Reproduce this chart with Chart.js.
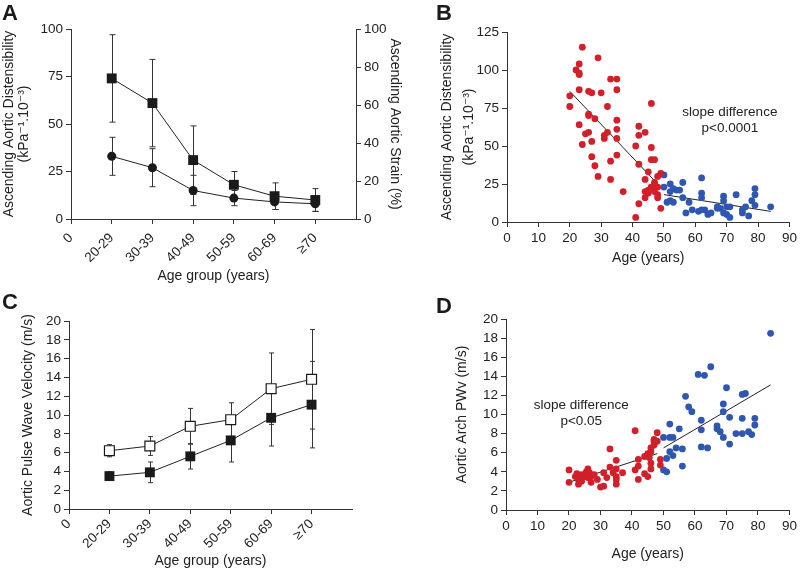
<!DOCTYPE html>
<html>
<head>
<meta charset="utf-8">
<script src="https://cdn.jsdelivr.net/npm/chart.js@4/dist/chart.umd.min.js"></script>
<style>
  html, body { margin: 0; padding: 0; background: #fff; }
  #wrap { position: relative; width: 800px; height: 570px; overflow: hidden; background: #fff; }
  canvas { position: absolute; }
  .letter { position: absolute; font: bold 22px "Liberation Sans", Arial, sans-serif; color: #1a1a1a; line-height: 1; }
</style>
</head>
<body>
<div id="wrap">
  <canvas id="cA" width="420" height="285" style="left:0;top:0"></canvas>
  <canvas id="cB" width="400" height="285" style="left:400px;top:0"></canvas>
  <canvas id="cC" width="400" height="285" style="left:0;top:285px"></canvas>
  <canvas id="cD" width="400" height="285" style="left:400px;top:285px"></canvas>
  <div class="letter" style="left:2px;top:2px">A</div>
  <div class="letter" style="left:436px;top:2px">B</div>
  <div class="letter" style="left:2px;top:291px">C</div>
  <div class="letter" style="left:436px;top:295px">D</div>
</div>
<script>
// ---------- DATA ----------
const ageGroups = ['0', '20-29', '30-39', '40-49', '50-59', '60-69', '\u226570'];

// Panel A
const distMean = [74, 61, 31, 18, 12, 10];
const distErr  = [23, 23, 18, 7, 7, 6];
const strainMean = [33, 27, 15, 11, 9, 8];
const strainErr  = [10, 10, 8, 4, 4, 4];

// Panel C
const pwvOpenMean = [6.2, 6.7, 8.8, 9.5, 12.8, 13.8];
const pwvOpenErr  = [0.65, 1.0, 1.9, 1.8, 3.8, 5.3];
const pwvFilledMean = [3.5, 3.9, 5.6, 7.3, 9.7, 11.1];
const pwvFilledErr  = [0.45, 1.1, 1.35, 2.3, 3.0, 4.6];

// Panel B (age, distensibility)
const bRedAge = [20,20,22,23,23,23,24,23,23,24,25,26,26,27,26,26,27,27,28,28,29,29,30,31,31,32,32,33,33,33,35,35,35,35,35,35,37,41,41,42,42,42,42,44,44,44,44,45,45,46,46,46,47,46,47,47,48,48,49,49,45,46,47,48,48];
const bRedVal = [76,83,100,98,97,104,115,87,64,51,58,59,86,85,71,70,53,43,68,37,108,30,85,55,57,76,59,94,40,28,94,87,67,61,55,44,20,50,3,63,57,38,12,59,28,20,16,33,19,78,49,41,41,23,26,20,30,16,32,9,21,23,24,18,23];
const bBlueAge = [50,50,51,52,52,52,53,53,54,55,56,56,57,58,59,61,62,62,62,62,63,64,65,67,67,68,69,69,69,70,70,71,71,73,75,75,76,77,78,79,79,79,84];
const bBlueVal = [31,23,13,25,20,14,22,13,21,21,26,16,6,13,8,7,29,19,16,8,8,5,6,10,9,9,17,14,6,10,5,3,10,18,8,6,10,4,14,22,18,11,10];
const bRedFitAge = [20, 48];
const bRedFitVal = [86, 25];
const bBlueFitAge = [50, 84];
const bBlueFitVal = [18, 7];

// Panel D (age, PWV)
const dRedAge = [20,20,22,22.5,23,23,23.5,24,24,25,25.5,26,26,26.5,27,27,28,29,30,31,31,32,33,33,34,35,35,35,35,35,37,41,41,42,42,42,44,44,45,45,46,46,46,47,47,47,48,48,49,49,46,45.5];
const dRedVal = [4.2,2.9,3.5,3.8,3.2,2.7,3.4,3.7,3.0,3.5,4.0,4.3,3.4,3.9,3.5,2.9,3.7,3.2,2.4,2.5,3.9,3.4,4.5,6.4,3.9,5.2,4.3,3.5,3.2,2.7,3.9,8.3,4.2,5.3,4.6,3.2,5.6,3.8,3.5,5.9,6.5,4.9,4.3,7.4,6.8,7.2,8.1,7.2,5.3,4.7,6.1,5.5];
const dBlueAge = [50,50,51,51,52,52,52,53,53,54,55,56,56,57,58,59,61,63,62,62,62,64,65,67,67,68,69,69,69,70,71,71,73,75,76,75,75,77,78,79,79,84];
const dBlueVal = [7.6,4.2,4.0,5.4,9.0,7.6,6.1,7.6,5.7,6.5,8.5,6.4,4.6,11.9,10.8,10.3,14.2,14.1,9.4,8.4,6.6,6.5,15.0,8.8,8.5,8.2,11.1,10.3,7.6,12.8,9.7,6.9,8.0,12.1,12.2,9.6,8.0,8.2,7.9,9.6,8.9,18.5];
const dRedFitAge = [20, 48];
const dRedFitVal = [2.9, 5.9];
const dBlueFitAge = [50, 84];
const dBlueFitVal = [6.5, 13.1];

// ---------- HELPERS ----------
const FONT = '"Liberation Sans", Arial, "DejaVu Sans", sans-serif';
const INK = '#222';
const RED = '#d21f2a';
const BLUE = '#2f56b0';
const TICK = 13.5;
const TITLE = 14;
Chart.defaults.font.family = FONT;
Chart.defaults.font.size = TICK;
Chart.defaults.color = INK;
Chart.defaults.animation = false;

const pts = (xs, ys) => xs.map((x, i) => ({ x, y: ys[i] }));
const grp = (ys) => ys.map((y, i) => ({ x: i + 1, y }));

const errorBars = {
  id: 'errorBars',
  beforeDatasetsDraw(chart) {
    const ctx = chart.ctx;
    chart.data.datasets.forEach((ds, i) => {
      if (!ds.errors) return;
      const meta = chart.getDatasetMeta(i);
      const xs = chart.scales[meta.xAxisID], ys = chart.scales[meta.yAxisID];
      const cap = ds.capHalf || 3;
      ctx.save();
      ctx.strokeStyle = '#333';
      ctx.lineWidth = 1;
      ds.data.forEach((p, j) => {
        const x = Math.round(xs.getPixelForValue(p.x)) + 0.5;
        const e = ds.errors[j];
        const y1 = ys.getPixelForValue(p.y - e), y2 = ys.getPixelForValue(p.y + e);
        ctx.beginPath();
        ctx.moveTo(x, y1); ctx.lineTo(x, y2);
        ctx.moveTo(x - cap, y1); ctx.lineTo(x + cap, y1);
        ctx.moveTo(x - cap, y2); ctx.lineTo(x + cap, y2);
        ctx.stroke();
      });
      ctx.restore();
    });
  }
};

const noteText = {
  id: 'noteText',
  afterDatasetsDraw(chart, args, opts) {
    if (!opts.lines) return;
    const ctx = chart.ctx;
    const x = chart.scales.x.getPixelForValue(opts.x);
    const y = chart.scales.y.getPixelForValue(opts.y);
    ctx.save();
    ctx.font = '13.5px ' + FONT;
    ctx.fillStyle = INK;
    ctx.textAlign = 'center';
    ctx.textBaseline = 'middle';
    opts.lines.forEach((l, i) => ctx.fillText(l, x, y + i * 16));
    ctx.restore();
  }
};

function axisStyle() {
  return {
    grid: { display: true, drawOnChartArea: false, drawTicks: true, tickLength: 5, color: '#333', lineWidth: 1 },
    border: { display: true, color: '#333', width: 1 }
  };
}

function groupX(heightPx, titlePadBottom, tickPad) {
  return Object.assign(axisStyle(), {
    type: 'linear', min: 0, max: 7,
    afterBuildTicks: s => { s.ticks = [0,1,2,3,4,5,6].map(v => ({ value: v })); },
    afterFit: s => { s.height = heightPx; },
    ticks: { autoSkip: false, minRotation: 45, maxRotation: 45, padding: tickPad,
             callback: v => ageGroups[v] },
    title: { display: true, text: 'Age group (years)', font: { size: TITLE, lineHeight: 1 }, padding: { top: 0, bottom: titlePadBottom } }
  });
}

// ---------- PANEL A ----------
new Chart(document.getElementById('cA'), {
  type: 'line',
  data: {
    datasets: [
      { data: grp(distMean), errors: distErr, capHalf: 3, yAxisID: 'y', borderColor: '#222', borderWidth: 1,
        pointStyle: 'rect', pointRadius: 7, pointBackgroundColor: '#1a1a1a', pointBorderColor: '#1a1a1a', pointBorderWidth: 0 },
      { data: grp(strainMean), errors: strainErr, capHalf: 3, yAxisID: 'y2', borderColor: '#222', borderWidth: 1,
        pointStyle: 'circle', pointRadius: 4.5, pointBackgroundColor: '#1a1a1a', pointBorderColor: '#1a1a1a', pointBorderWidth: 0 }
    ]
  },
  options: {
    responsive: false,
    layout: { padding: { top: 29, left: 0, right: 0, bottom: 0 } },
    plugins: { legend: { display: false }, tooltip: { enabled: false } },
    scales: {
      x: groupX(66, 2, 6),
      y: Object.assign(axisStyle(), {
        position: 'left', min: 0, max: 100,
        afterFit: s => { s.width = 71; },
        ticks: { stepSize: 25, padding: 3, autoSkip: false },
        title: { display: true, text: ['Ascending Aortic Distensibility', '(kPa\u207B\u00B9.10\u207B\u00B3)'],
                 font: { size: TITLE, lineHeight: 1.1 }, padding: { top: 1.5, bottom: 0 } }
      }),
      y2: Object.assign(axisStyle(), {
        position: 'right', min: 0, max: 100,
        afterFit: s => { s.width = 64; },
        ticks: { stepSize: 20, padding: 3, autoSkip: false },
        title: { display: true, text: 'Ascending Aortic Strain (%)', font: { size: TITLE, lineHeight: 1 }, padding: { top: 18, bottom: 0 } }
      })
    }
  },
  plugins: [errorBars]
});

// ---------- PANEL B ----------
new Chart(document.getElementById('cB'), {
  type: 'scatter',
  data: {
    datasets: [
      { data: pts(bRedAge, bRedVal), backgroundColor: RED, borderColor: RED, pointRadius: 3.4, borderWidth: 0 },
      { data: pts(bBlueAge, bBlueVal), backgroundColor: BLUE, borderColor: BLUE, pointRadius: 3.4, borderWidth: 0 },
      { type: 'line', data: pts(bRedFitAge, bRedFitVal), borderColor: '#222', borderWidth: 1, pointRadius: 0 },
      { type: 'line', data: pts(bBlueFitAge, bBlueFitVal), borderColor: '#222', borderWidth: 1, pointRadius: 0 }
    ]
  },
  options: {
    responsive: false,
    layout: { padding: { top: 32, left: 0, right: 8, bottom: 0 } },
    plugins: { legend: { display: false }, tooltip: { enabled: false },
               noteText: { x: 71, y: 72, lines: ['slope difference', 'p<0.0001'] } },
    scales: {
      x: Object.assign(axisStyle(), {
        type: 'linear', min: 0, max: 90,
        afterFit: s => { s.height = 63; },
        ticks: { stepSize: 10, padding: 3, maxRotation: 0, autoSkip: false },
        title: { display: true, text: 'Age (years)', font: { size: TITLE, lineHeight: 1 }, padding: { top: 0, bottom: 20 } }
      }),
      y: Object.assign(axisStyle(), {
        min: 0, max: 125,
        afterFit: s => { s.width = 107; },
        ticks: { stepSize: 25, padding: 3, autoSkip: false },
        title: { display: true, text: ['Ascending Aortic Distensibility', '(kPa\u207B\u00B9.10\u207B\u00B3)'],
                 font: { size: TITLE, lineHeight: 1.6 }, padding: { top: 35.5, bottom: 0 } }
      })
    }
  },
  plugins: [noteText]
});

// ---------- PANEL C ----------
new Chart(document.getElementById('cC'), {
  type: 'line',
  data: {
    datasets: [
      { data: grp(pwvOpenMean), errors: pwvOpenErr, capHalf: 2.5, borderColor: '#222', borderWidth: 1,
        pointStyle: 'rect', pointRadius: 7, pointBackgroundColor: '#fff', pointBorderColor: '#1a1a1a', pointBorderWidth: 1.2 },
      { data: grp(pwvFilledMean), errors: pwvFilledErr, capHalf: 2.5, borderColor: '#222', borderWidth: 1,
        pointStyle: 'rect', pointRadius: 7, pointBackgroundColor: '#1a1a1a', pointBorderColor: '#1a1a1a', pointBorderWidth: 0 }
    ]
  },
  options: {
    responsive: false,
    layout: { padding: { top: 36, left: 0, right: 48, bottom: 0 } },
    plugins: { legend: { display: false }, tooltip: { enabled: false } },
    scales: {
      x: groupX(61, 2, 2),
      y: Object.assign(axisStyle(), {
        min: 0, max: 20,
        afterFit: s => { s.width = 69; },
        ticks: { stepSize: 2, padding: 3, autoSkip: false },
        title: { display: true, text: 'Aortic Pulse Wave Velocity (m/s)', font: { size: TITLE, lineHeight: 1 }, padding: { top: 21, bottom: 0 } }
      })
    }
  },
  plugins: [errorBars]
});

// ---------- PANEL D ----------
new Chart(document.getElementById('cD'), {
  type: 'scatter',
  data: {
    datasets: [
      { data: pts(dRedAge, dRedVal), backgroundColor: RED, borderColor: RED, pointRadius: 3.4, borderWidth: 0 },
      { data: pts(dBlueAge, dBlueVal), backgroundColor: BLUE, borderColor: BLUE, pointRadius: 3.4, borderWidth: 0 },
      { type: 'line', data: pts(dRedFitAge, dRedFitVal), borderColor: '#222', borderWidth: 1, pointRadius: 0 },
      { type: 'line', data: pts(dBlueFitAge, dBlueFitVal), borderColor: '#222', borderWidth: 1, pointRadius: 0 }
    ]
  },
  options: {
    responsive: false,
    layout: { padding: { top: 34, left: 0, right: 8, bottom: 0 } },
    plugins: { legend: { display: false }, tooltip: { enabled: false },
               noteText: { x: 23.9, y: 11.0, lines: ['slope difference', 'p<0.05'] } },
    scales: {
      x: Object.assign(axisStyle(), {
        type: 'linear', min: 0, max: 90,
        afterFit: s => { s.height = 60; },
        ticks: { stepSize: 10, padding: 3, maxRotation: 0, autoSkip: false },
        title: { display: true, text: 'Age (years)', font: { size: TITLE, lineHeight: 1 }, padding: { top: 0, bottom: 9 } }
      }),
      y: Object.assign(axisStyle(), {
        min: 0, max: 20,
        afterFit: s => { s.width = 106; },
        ticks: { stepSize: 2, padding: 3, autoSkip: false },
        title: { display: true, text: 'Aortic Arch PWv (m/s)', font: { size: TITLE, lineHeight: 1 }, padding: { top: 55, bottom: 0 } }
      })
    }
  },
  plugins: [noteText]
});
</script>
</body>
</html>
